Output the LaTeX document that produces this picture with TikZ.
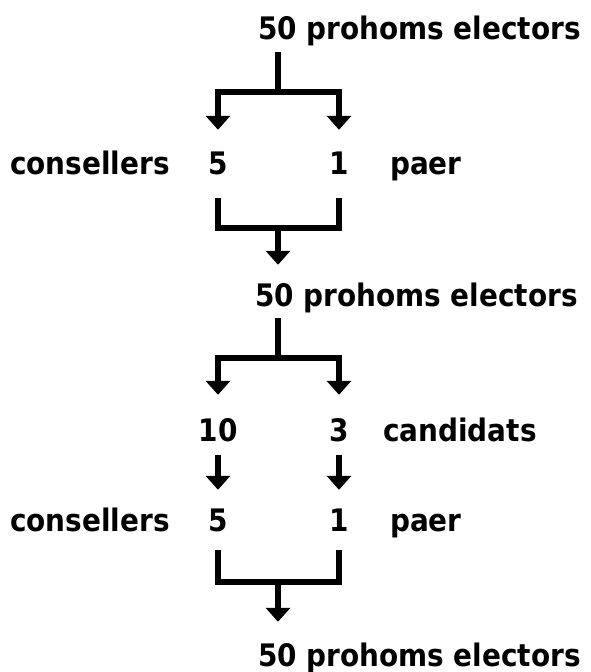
\documentclass[tikz,border=0pt]{standalone}
\usepackage{fontspec}
\setmainfont{DejaVu Sans Condensed}
\usetikzlibrary{arrows.meta}
\begin{document}
\begin{tikzpicture}[x=1pt,y=1pt,
  lbl/.style={inner sep=0pt,text height=22pt,text depth=0pt,font=\fontsize{31}{34}\selectfont\bfseries},
  bar/.style={line width=6pt,line join=miter},
  arr/.style={bar,-{Triangle[width=24pt,length=14pt]}}]
\useasboundingbox (0,0) rectangle (590,-672);
%Nodes and names
\node[lbl,anchor=west] (e1) at (258,-28) {50 prohoms electors};
\node[lbl,anchor=west] (cons1) at (10,-163) {consellers};
\node[lbl] (n5a) at (218,-163) {5};
\node[lbl] (n1a) at (339,-163) {1};
\node[lbl,anchor=west] (paer1) at (390,-163) {paer};
\node[lbl,anchor=west] (e2) at (255,-295) {50 prohoms electors};
\node[lbl] (n10) at (218,-430) {10};
\node[lbl] (n3) at (339,-430) {3};
\node[lbl,anchor=west] (cand) at (383,-430) {candidats};
\node[lbl,anchor=west] (cons2) at (10,-520) {consellers};
\node[lbl] (n5b) at (218,-520) {5};
\node[lbl] (n1b) at (339,-520) {1};
\node[lbl,anchor=west] (paer2) at (390,-520) {paer};
\node[lbl,anchor=west] (e3) at (258,-655) {50 prohoms electors};
%Junctions
\coordinate (j1) at (278,-92);
\coordinate (j2) at (278,-228);
\coordinate (j3) at (278,-358);
\coordinate (j4) at (278,-582);
%First election
\draw[bar] ([yshift=-13pt]e1.south -| j1) -- (j1);
\draw[arr,shorten >=22pt] (j1) -| (n5a);
\draw[arr,shorten >=22pt] (j1) -| (n1a);
\draw[bar] ([yshift=-24pt]n5a.south) |- (j2) -| ([yshift=-24pt]n1a.south);
\draw[arr,shorten >=19pt] (j2) -- (j2 |- e2.north);
%Second election
\draw[bar] ([yshift=-12pt]e2.south -| j3) -- (j3);
\draw[arr,shorten >=24pt] (j3) -| (n10);
\draw[arr,shorten >=24pt] (j3) -| (n3);
\draw[arr,shorten <=14pt,shorten >=19pt] (n10) -- (n5b);
\draw[arr,shorten <=14pt,shorten >=19pt] (n3) -- (n1b);
\draw[bar] ([yshift=-19pt]n5b.south) |- (j4) -| ([yshift=-19pt]n1b.south);
\draw[arr,shorten >=22pt] (j4) -- (j4 |- e3.north);
\end{tikzpicture}
\end{document}
